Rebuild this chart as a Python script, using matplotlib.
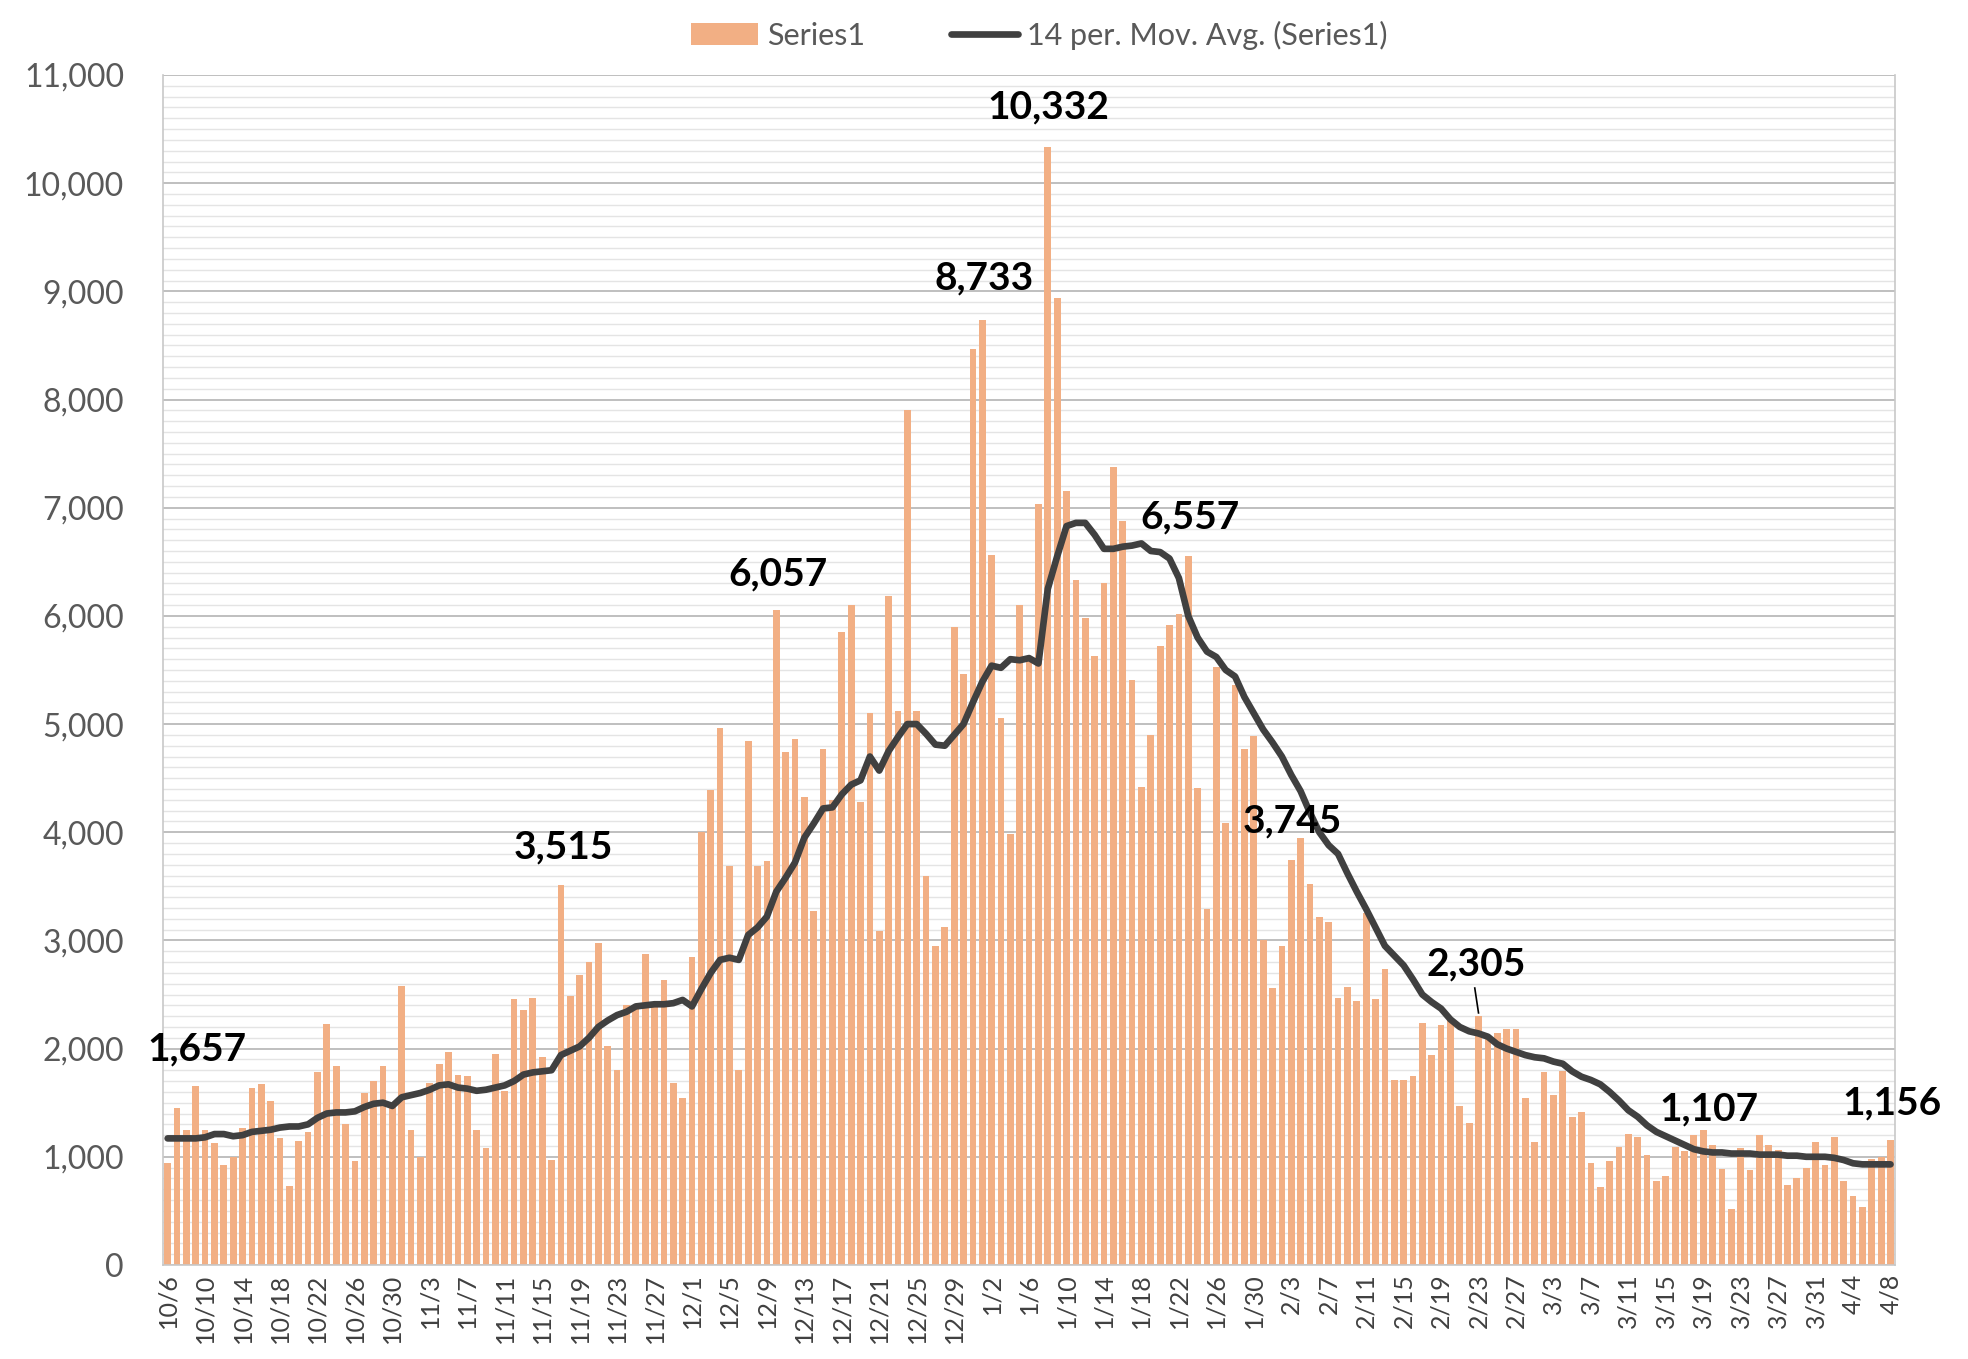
import pandas as pd
import matplotlib
matplotlib.use('Agg')
import matplotlib.pyplot as plt
from matplotlib.ticker import MultipleLocator, FuncFormatter

plt.rcParams['font.family'] = ['Lato', 'DejaVu Sans']

# daily reported values, 10/6 .. 4/8
dates = pd.date_range('2020-10-06', '2021-04-08', freq='D')
date_labels = [f"{d.month}/{d.day}" for d in dates]

cases = [
    940, 1450, 1250, 1657, 1250, 1130, 920, 1000, 1270, 1640,
    1670, 1520, 1170, 730, 1150, 1230, 1780, 2230, 1840, 1300,
    960, 1590, 1700, 1840, 1480, 2580, 1250, 1000, 1680, 1860,
    1970, 1760, 1750, 1250, 1080, 1950, 1610, 2460, 2360, 2470,
    1920, 970, 3515, 2490, 2680, 2800, 2980, 2020, 1800, 2400,
    2380, 2870, 2400, 2630, 1680, 1540, 2850, 4000, 4390, 4960,
    3690, 1800, 4840, 3690, 3730, 6057, 4740, 4860, 4330, 3270,
    4770, 4300, 5850, 6100, 4280, 5100, 3090, 6180, 5120, 7900,
    5120, 3600, 2950, 3120, 5900, 5460, 8470, 8733, 6560, 5060,
    3980, 6100, 5630, 7030, 10332, 8940, 7150, 6330, 5980, 5630,
    6300, 7380, 6880, 5410, 4420, 4900, 5720, 5920, 6020, 6557,
    4410, 3290, 5530, 4090, 5360, 4770, 4890, 3000, 2560, 2950,
    3745, 3950, 3520, 3220, 3170, 2470, 2570, 2440, 3250, 2460,
    2740, 1710, 1710, 1750, 2240, 1940, 2220, 2280, 1470, 1310,
    2305, 2100, 2140, 2180, 2180, 1540, 1140, 1780, 1570, 1790,
    1370, 1410, 940, 720, 960, 1090, 1210, 1180, 1020, 780,
    820, 1090, 1050, 1200, 1250, 1107, 890, 520, 1080, 880,
    1200, 1110, 1060, 740, 800, 900, 1140, 920, 1180, 780,
    640, 540, 980, 1000, 1156,
]

# 14 per. moving average as drawn in the source chart
mov_avg = [
    1170, 1170, 1170, 1170, 1180, 1210, 1210, 1190, 1200, 1230,
    1240, 1250, 1270, 1280, 1280, 1300, 1360, 1400, 1410, 1410,
    1420, 1460, 1490, 1500, 1470, 1550, 1570, 1590, 1620, 1660,
    1670, 1640, 1630, 1610, 1620, 1640, 1660, 1700, 1760, 1780,
    1790, 1800, 1940, 1980, 2020, 2100, 2200, 2260, 2310, 2340,
    2390, 2400, 2410, 2410, 2420, 2450, 2390, 2550, 2700, 2820,
    2840, 2820, 3050, 3120, 3220, 3450, 3580, 3720, 3950, 4080,
    4220, 4230, 4350, 4440, 4480, 4700, 4570, 4750, 4880, 5000,
    5000, 4910, 4810, 4800, 4900, 5000, 5200, 5390, 5540, 5520,
    5600, 5590, 5610, 5560, 6250, 6550, 6830, 6860, 6860, 6750,
    6620, 6620, 6640, 6650, 6670, 6600, 6590, 6530, 6350, 6000,
    5800, 5670, 5620, 5500, 5440, 5250, 5100, 4950, 4830, 4700,
    4530, 4380, 4180, 4000, 3880, 3800, 3620, 3450, 3290, 3120,
    2950, 2860, 2770, 2640, 2500, 2430, 2370, 2270, 2200, 2160,
    2140, 2110, 2040, 2000, 1970, 1940, 1920, 1910, 1880, 1860,
    1790, 1740, 1710, 1670, 1600, 1520, 1430, 1370, 1290, 1230,
    1190, 1150, 1110, 1070, 1050, 1040, 1040, 1030, 1030, 1030,
    1020, 1020, 1020, 1010, 1010, 1000, 1000, 1000, 990, 970,
    940, 930, 930, 930, 930,
]

# bars that carry a value label
labelled_days = [3, 42, 65, 87, 94, 109, 120, 140, 165, 184]
# where each label sits (x in days, y in data units)
label_pos = [(3.1, 2000), (42.3, 3860), (65.2, 6390), (87.2, 9120), (94.1, 10700),
             (109.2, 6910), (120.1, 4100), (139.7, 2780), (164.6, 1440), (184.2, 1500)]

x = list(range(len(cases)))

fig = plt.figure(figsize=(19.68, 13.59), dpi=100)
ax = fig.add_axes([0.0828, 0.0692, 0.8802, 0.8756])

bars = ax.bar(x, cases, width=0.72, color='#F2AF84', label='Series1', zorder=2)
line, = ax.plot(x, mov_avg, color='#404040', lw=4.8, solid_capstyle='round',
                label='14 per. Mov. Avg. (Series1)', zorder=3)

for d, (tx, ty) in zip(labelled_days, label_pos):
    ax.text(tx, ty, f"{cases[d]:,}", ha='center', va='center', fontsize=28,
            fontweight='bold', color='black', zorder=5, clip_on=False)
# leader line for the 2,305 label
ax.plot([139.6, 140.0], [2560, 2330], color='black', lw=1.2, zorder=5)

ax.set_xlim(-0.5, len(cases) - 0.5)
ax.set_ylim(0, 11000)
ax.yaxis.set_major_locator(MultipleLocator(1000))
ax.yaxis.set_minor_locator(MultipleLocator(100))
ax.yaxis.set_major_formatter(FuncFormatter(lambda v, p: f"{int(v):,}"))
ax.grid(axis='y', which='major', color='#b4b4b4', lw=1.2)
ax.grid(axis='y', which='minor', color='#e4e4e4', lw=1.0)
ax.set_axisbelow(True)

ax.set_xticks(x[::4])
ax.set_xticklabels(date_labels[::4], rotation=90, fontsize=18, color='#404040')
ax.tick_params(axis='x', length=0, pad=6)
ax.tick_params(axis='y', which='both', length=0, pad=28, labelsize=23, labelcolor='#595959')

for s in ['left', 'bottom', 'right']:
    ax.spines[s].set_color('#c8c8c8')
    ax.spines[s].set_linewidth(1.2)
ax.spines['top'].set_visible(False)

fig.legend(handles=[bars, line], loc='upper center', bbox_to_anchor=(0.528, 1.005), ncol=2,
           frameon=False, fontsize=22, handlelength=2.2, columnspacing=2.8,
           handletextpad=0.3, labelcolor='#595959')

fig.savefig('out.png', dpi=100, facecolor='white')
